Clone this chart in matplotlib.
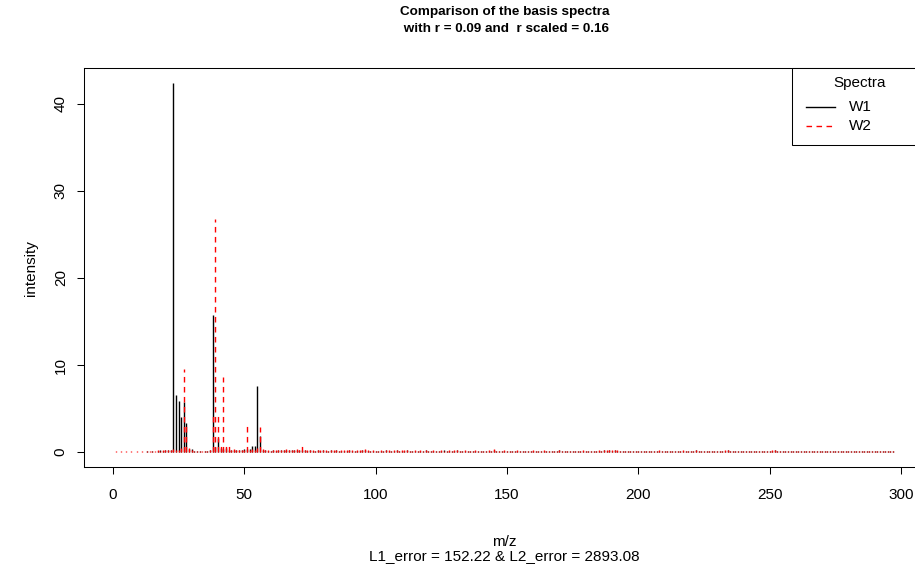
import numpy as np
import matplotlib
matplotlib.use("Agg")
import matplotlib.pyplot as plt
from matplotlib.lines import Line2D
from matplotlib.patches import Rectangle

plt.rcParams['font.family'] = ['Liberation Sans', 'DejaVu Sans']

# m/z channels
mz = np.arange(1, 298)

# basis spectrum W1 (black)
w1 = [
    0.05, 0.05, 0.05, 0.05, 0.05, 0.05, 0.05, 0.05, 0.05, 0.05, 0.05, 0.05, 0.1, 0.05, 0.1, 0.05, 0.1, 0.2, 0.1, 0.2,
    0.3, 0.2, 42.4, 6.6, 5.9, 4.0, 5.8, 3.3, 0.4, 0.4, 0.1, 0.1, 0.1, 0.05, 0.1, 0.1, 0.2, 15.8, 0.6, 1.6,
    0.5, 0.4, 0.5, 0.2, 0.3, 0.2, 0.2, 0.3, 0.2, 0.4, 0.4, 0.4, 0.7, 0.7, 7.6, 1.9, 0.3, 0.2, 0.1, 0.1,
    0.2, 0.1, 0.2, 0.3, 0.2, 0.2, 0.3, 0.2, 0.3, 0.2, 0.2, 0.3, 0.2, 0.1, 0.2, 0.1, 0.1, 0.2, 0.1, 0.2,
    0.1, 0.1, 0.2, 0.1, 0.2, 0.1, 0.1, 0.1, 0.1, 0.2, 0.1, 0.1, 0.1, 0.1, 0.2, 0.3, 0.1, 0.1, 0.1, 0.1,
    0.1, 0.1, 0.1, 0.2, 0.1, 0.1, 0.1, 0.2, 0.1, 0.1, 0.1, 0.2, 0.1, 0.1, 0.1, 0.1, 0.1, 0.1, 0.2, 0.1,
    0.1, 0.1, 0.1, 0.1, 0.1, 0.2, 0.1, 0.1, 0.1, 0.1, 0.2, 0.1, 0.1, 0.1, 0.1, 0.1, 0.1, 0.1, 0.1, 0.1,
    0.1, 0.1, 0.1, 0.1, 0.2, 0.1, 0.1, 0.1, 0.1, 0.1, 0.1, 0.1, 0.1, 0.1, 0.1, 0.1, 0.1, 0.1, 0.1, 0.1,
    0.1, 0.1, 0.1, 0.1, 0.1, 0.1, 0.1, 0.1, 0.1, 0.2, 0.1, 0.1, 0.1, 0.1, 0.1, 0.1, 0.1, 0.1, 0.1, 0.1,
    0.1, 0.1, 0.1, 0.1, 0.1, 0.1, 0.2, 0.1, 0.2, 0.1, 0.2, 0.1, 0.1, 0.1, 0.1, 0.1, 0.1, 0.1, 0.1, 0.1,
    0.1, 0.1, 0.1, 0.1, 0.1, 0.1, 0.1, 0.1, 0.1, 0.1, 0.1, 0.1, 0.1, 0.1, 0.1, 0.1, 0.1, 0.1, 0.1, 0.1,
    0.1, 0.2, 0.1, 0.1, 0.1, 0.1, 0.1, 0.1, 0.1, 0.1, 0.1, 0.1, 0.1, 0.2, 0.1, 0.1, 0.1, 0.1, 0.1, 0.1,
    0.1, 0.1, 0.1, 0.1, 0.1, 0.1, 0.1, 0.1, 0.1, 0.1, 0.1, 0.2, 0.1, 0.1, 0.1, 0.1, 0.1, 0.1, 0.1, 0.1,
    0.1, 0.1, 0.1, 0.1, 0.1, 0.1, 0.1, 0.1, 0.1, 0.1, 0.1, 0.1, 0.1, 0.1, 0.1, 0.1, 0.1, 0.1, 0.1, 0.1,
    0.1, 0.1, 0.1, 0.1, 0.1, 0.1, 0.1, 0.1, 0.1, 0.1, 0.1, 0.1, 0.1, 0.1, 0.1, 0.1, 0.1,
]

# basis spectrum W2 (red dashed)
w2 = [
    0.1, 0.05, 0.1, 0.05, 0.1, 0.05, 0.1, 0.05, 0.1, 0.05, 0.1, 0.05, 0.1, 0.1, 0.1, 0.1, 0.2, 0.1, 0.2, 0.3,
    0.2, 0.3, 0.4, 0.3, 0.3, 0.5, 9.5, 3.3, 0.5, 0.3, 0.1, 0.1, 0.1, 0.1, 0.1, 0.1, 0.2, 4.2, 26.8, 4.5,
    1.2, 8.6, 1.2, 1.2, 0.3, 0.4, 0.2, 0.3, 0.3, 0.2, 3.0, 0.3, 0.4, 0.2, 0.5, 2.9, 0.4, 0.3, 0.2, 0.1,
    0.2, 0.3, 0.3, 0.2, 0.3, 0.4, 0.3, 0.2, 0.3, 0.4, 0.3, 1.2, 0.3, 0.2, 0.2, 0.2, 0.1, 0.2, 0.3, 0.2,
    0.2, 0.1, 0.2, 0.3, 0.2, 0.1, 0.2, 0.2, 0.3, 0.2, 0.2, 0.1, 0.2, 0.2, 0.3, 0.4, 0.2, 0.1, 0.2, 0.1,
    0.1, 0.2, 0.1, 0.2, 0.2, 0.1, 0.3, 0.2, 0.1, 0.2, 0.2, 0.3, 0.1, 0.1, 0.2, 0.1, 0.2, 0.1, 0.2, 0.1,
    0.1, 0.2, 0.1, 0.1, 0.2, 0.1, 0.1, 0.2, 0.1, 0.2, 0.3, 0.1, 0.1, 0.2, 0.1, 0.1, 0.1, 0.2, 0.1, 0.1,
    0.1, 0.1, 0.2, 0.1, 0.4, 0.1, 0.1, 0.1, 0.2, 0.1, 0.1, 0.1, 0.1, 0.2, 0.1, 0.1, 0.1, 0.1, 0.1, 0.2,
    0.1, 0.1, 0.1, 0.2, 0.1, 0.1, 0.1, 0.1, 0.1, 0.2, 0.1, 0.1, 0.1, 0.1, 0.1, 0.1, 0.1, 0.1, 0.2, 0.1,
    0.1, 0.1, 0.1, 0.1, 0.2, 0.1, 0.2, 0.3, 0.2, 0.3, 0.2, 0.2, 0.1, 0.1, 0.1, 0.1, 0.1, 0.1, 0.1, 0.1,
    0.1, 0.1, 0.1, 0.1, 0.1, 0.1, 0.1, 0.2, 0.1, 0.1, 0.1, 0.1, 0.1, 0.1, 0.1, 0.1, 0.2, 0.1, 0.1, 0.1,
    0.1, 0.3, 0.1, 0.1, 0.1, 0.1, 0.1, 0.1, 0.1, 0.1, 0.1, 0.1, 0.2, 0.3, 0.1, 0.1, 0.1, 0.1, 0.1, 0.1,
    0.1, 0.1, 0.1, 0.1, 0.1, 0.1, 0.1, 0.1, 0.1, 0.1, 0.2, 0.3, 0.1, 0.1, 0.1, 0.1, 0.1, 0.1, 0.1, 0.1,
    0.1, 0.1, 0.1, 0.1, 0.1, 0.1, 0.1, 0.1, 0.1, 0.1, 0.1, 0.1, 0.1, 0.1, 0.1, 0.1, 0.1, 0.1, 0.1, 0.1,
    0.1, 0.1, 0.1, 0.1, 0.1, 0.1, 0.1, 0.1, 0.1, 0.1, 0.1, 0.1, 0.1, 0.1, 0.1, 0.1, 0.1,
]

title = "Comparison of the basis spectra\n with r = 0.09 and  r scaled = 0.16"
xlab = "m/z\nL1_error = 152.22 & L2_error = 2893.08"
xticks = [0, 50, 100, 150, 200, 250, 300]
yticks = [0, 10, 20, 30, 40]
series_names = ['W1', 'W2']

fs = 11
W, H = 915, 565
dash = (0, (4.0, 3.2))


def fx(px):
    return px / W


def fy(py):
    return 1 - py / H


fig = plt.figure(figsize=(9.15, 5.65), dpi=100)
# R-style plot region; right edge runs past the picture as in the reference
ax = fig.add_axes([0.0923, 0.1735, 0.9177, 0.7062])

ax.vlines(mz, 0, w1, colors='black', lw=1.0)
ax.vlines(mz, 0, w2, colors='red', lw=1.0, linestyles=dash)

# R's 4 % axis extension
xr = mz.max() - mz.min()
ax.set_xlim(mz.min() - 0.04 * xr, mz.max() + 0.04 * xr)
ymax = max(max(w1), max(w2))
ax.set_ylim(-0.04 * ymax, ymax * 1.04)

ax.set_xticks(xticks)
ax.set_yticks(yticks)
ax.tick_params(axis='both', direction='out', length=5, width=0.75, labelsize=fs, colors='black')
ax.tick_params(axis='x', pad=10)
ax.tick_params(axis='y', pad=7)
for lab in ax.get_yticklabels():
    lab.set_rotation(90)
    lab.set_va('center')

for sp in ax.spines.values():
    sp.set_linewidth(0.75)
    sp.set_color('black')

fig.text(fx(504.5), fy(20.5), title, ha='center', va='center',
         fontsize=9.7, fontweight='bold', linespacing=1.45)
fig.text(fx(504.5), fy(549), xlab, ha='center', va='center',
         fontsize=fs, linespacing=1.05)
fig.text(fx(31), fy(268), "intensity", ha='center', va='center',
         rotation=90, fontsize=fs)

# legend box, R style (top right of the plot region)
fig.patches.append(Rectangle((fx(791.5), fy(145)), fx(200), fy(68) - fy(145),
                             transform=fig.transFigure, fill=True, facecolor='white',
                             edgecolor='black', lw=0.75, zorder=5))
fig.text(fx(859.5), fy(83), 'Spectra', ha='center', va='center', fontsize=fs, zorder=6)
leg_y = [107, 125.5]
leg_style = [dict(color='black', lw=1.0), dict(color='red', lw=1.0, linestyle=dash)]
for name, y, st in zip(series_names, leg_y, leg_style):
    fig.lines.append(Line2D([fx(806), fx(835)], [fy(y), fy(y)],
                            transform=fig.transFigure, zorder=6, **st))
    fig.text(fx(849), fy(y), name, ha='left', va='center', fontsize=fs, zorder=6)

fig.savefig('out.png', dpi=100)
